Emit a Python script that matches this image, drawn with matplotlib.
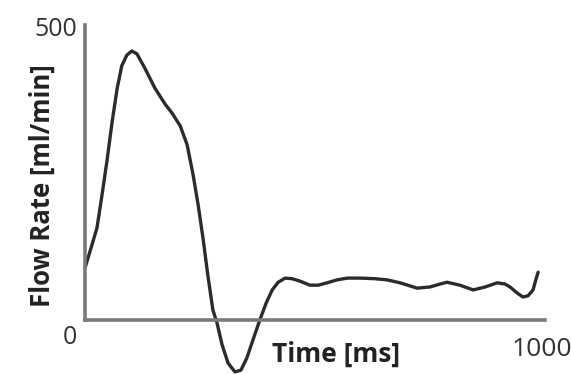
import matplotlib
matplotlib.use("Agg")
import matplotlib.pyplot as plt

plt.rcParams['font.family'] = ['Open Sans', 'DejaVu Sans']

# Time (ms) and flow rate (ml/min)
time_ms = [0, 15, 26, 37, 48, 59, 70, 80, 91, 102, 113, 130, 152, 174, 189, 207,
           222, 235, 246, 257, 267, 278, 287, 298, 311, 326, 339, 352, 365, 380,
           394, 407, 420, 435, 450, 467, 489, 507, 526, 548, 570, 598, 630, 657,
           685, 722, 750, 772, 787, 815, 844, 870, 896, 913, 924, 939, 952, 963,
           974, 980, 985]
flow = [88, 127, 156, 212, 271, 336, 393, 431, 449, 456, 451, 427, 393, 366, 351, 329,
        297, 246, 195, 136, 76, 17, -5, -42, -73, -88, -85, -64, -34, 0,
        29, 51, 64, 71, 70, 66, 59, 59, 63, 68, 71, 71, 70, 68,
        63, 54, 56, 61, 64, 59, 51, 56, 63, 61, 56, 46, 39, 41,
        51, 68, 81]

W, H = 571, 374
fig = plt.figure(figsize=(W / 100, H / 100), dpi=100)
fig.patch.set_facecolor('white')

ax_l, ax_r, ax_t, ax_b = 85, 545, 25, 320
ax = fig.add_axes([ax_l / W, 1 - ax_b / H, (ax_r - ax_l) / W, (ax_b - ax_t) / H])
ax.set_xlim(0, 1000)
ax.set_ylim(0, 500)
ax.patch.set_alpha(0)
for s in ['top', 'right']:
    ax.spines[s].set_visible(False)
for s in ['left', 'bottom']:
    ax.spines[s].set_color('#7a7a7a')
    ax.spines[s].set_linewidth(2.6)
ax.set_xticks([])
ax.set_yticks([])

ax.plot(time_ms, flow, color='#2b2b2b', lw=2.4, clip_on=False,
        solid_capstyle='round', solid_joinstyle='round')

def px(x, y):
    return x / W, 1 - y / H

fig.text(*px(56, 29), '500', fontsize=18, color='#333333', ha='center', va='center')
fig.text(*px(70, 338), '0', fontsize=18, color='#333333', ha='center', va='center')
fig.text(*px(512, 350), '1000', fontsize=19, color='#333333', ha='left', va='center')
fig.text(*px(272, 354), 'Time [ms]', fontsize=19, fontweight='bold', color='#222222',
         ha='left', va='center')
fig.text(*px(42, 186), 'Flow Rate [ml/min]', fontsize=18.5, fontweight='bold', color='#222222',
         ha='center', va='center', rotation=90)

fig.savefig('out.png', dpi=100)
